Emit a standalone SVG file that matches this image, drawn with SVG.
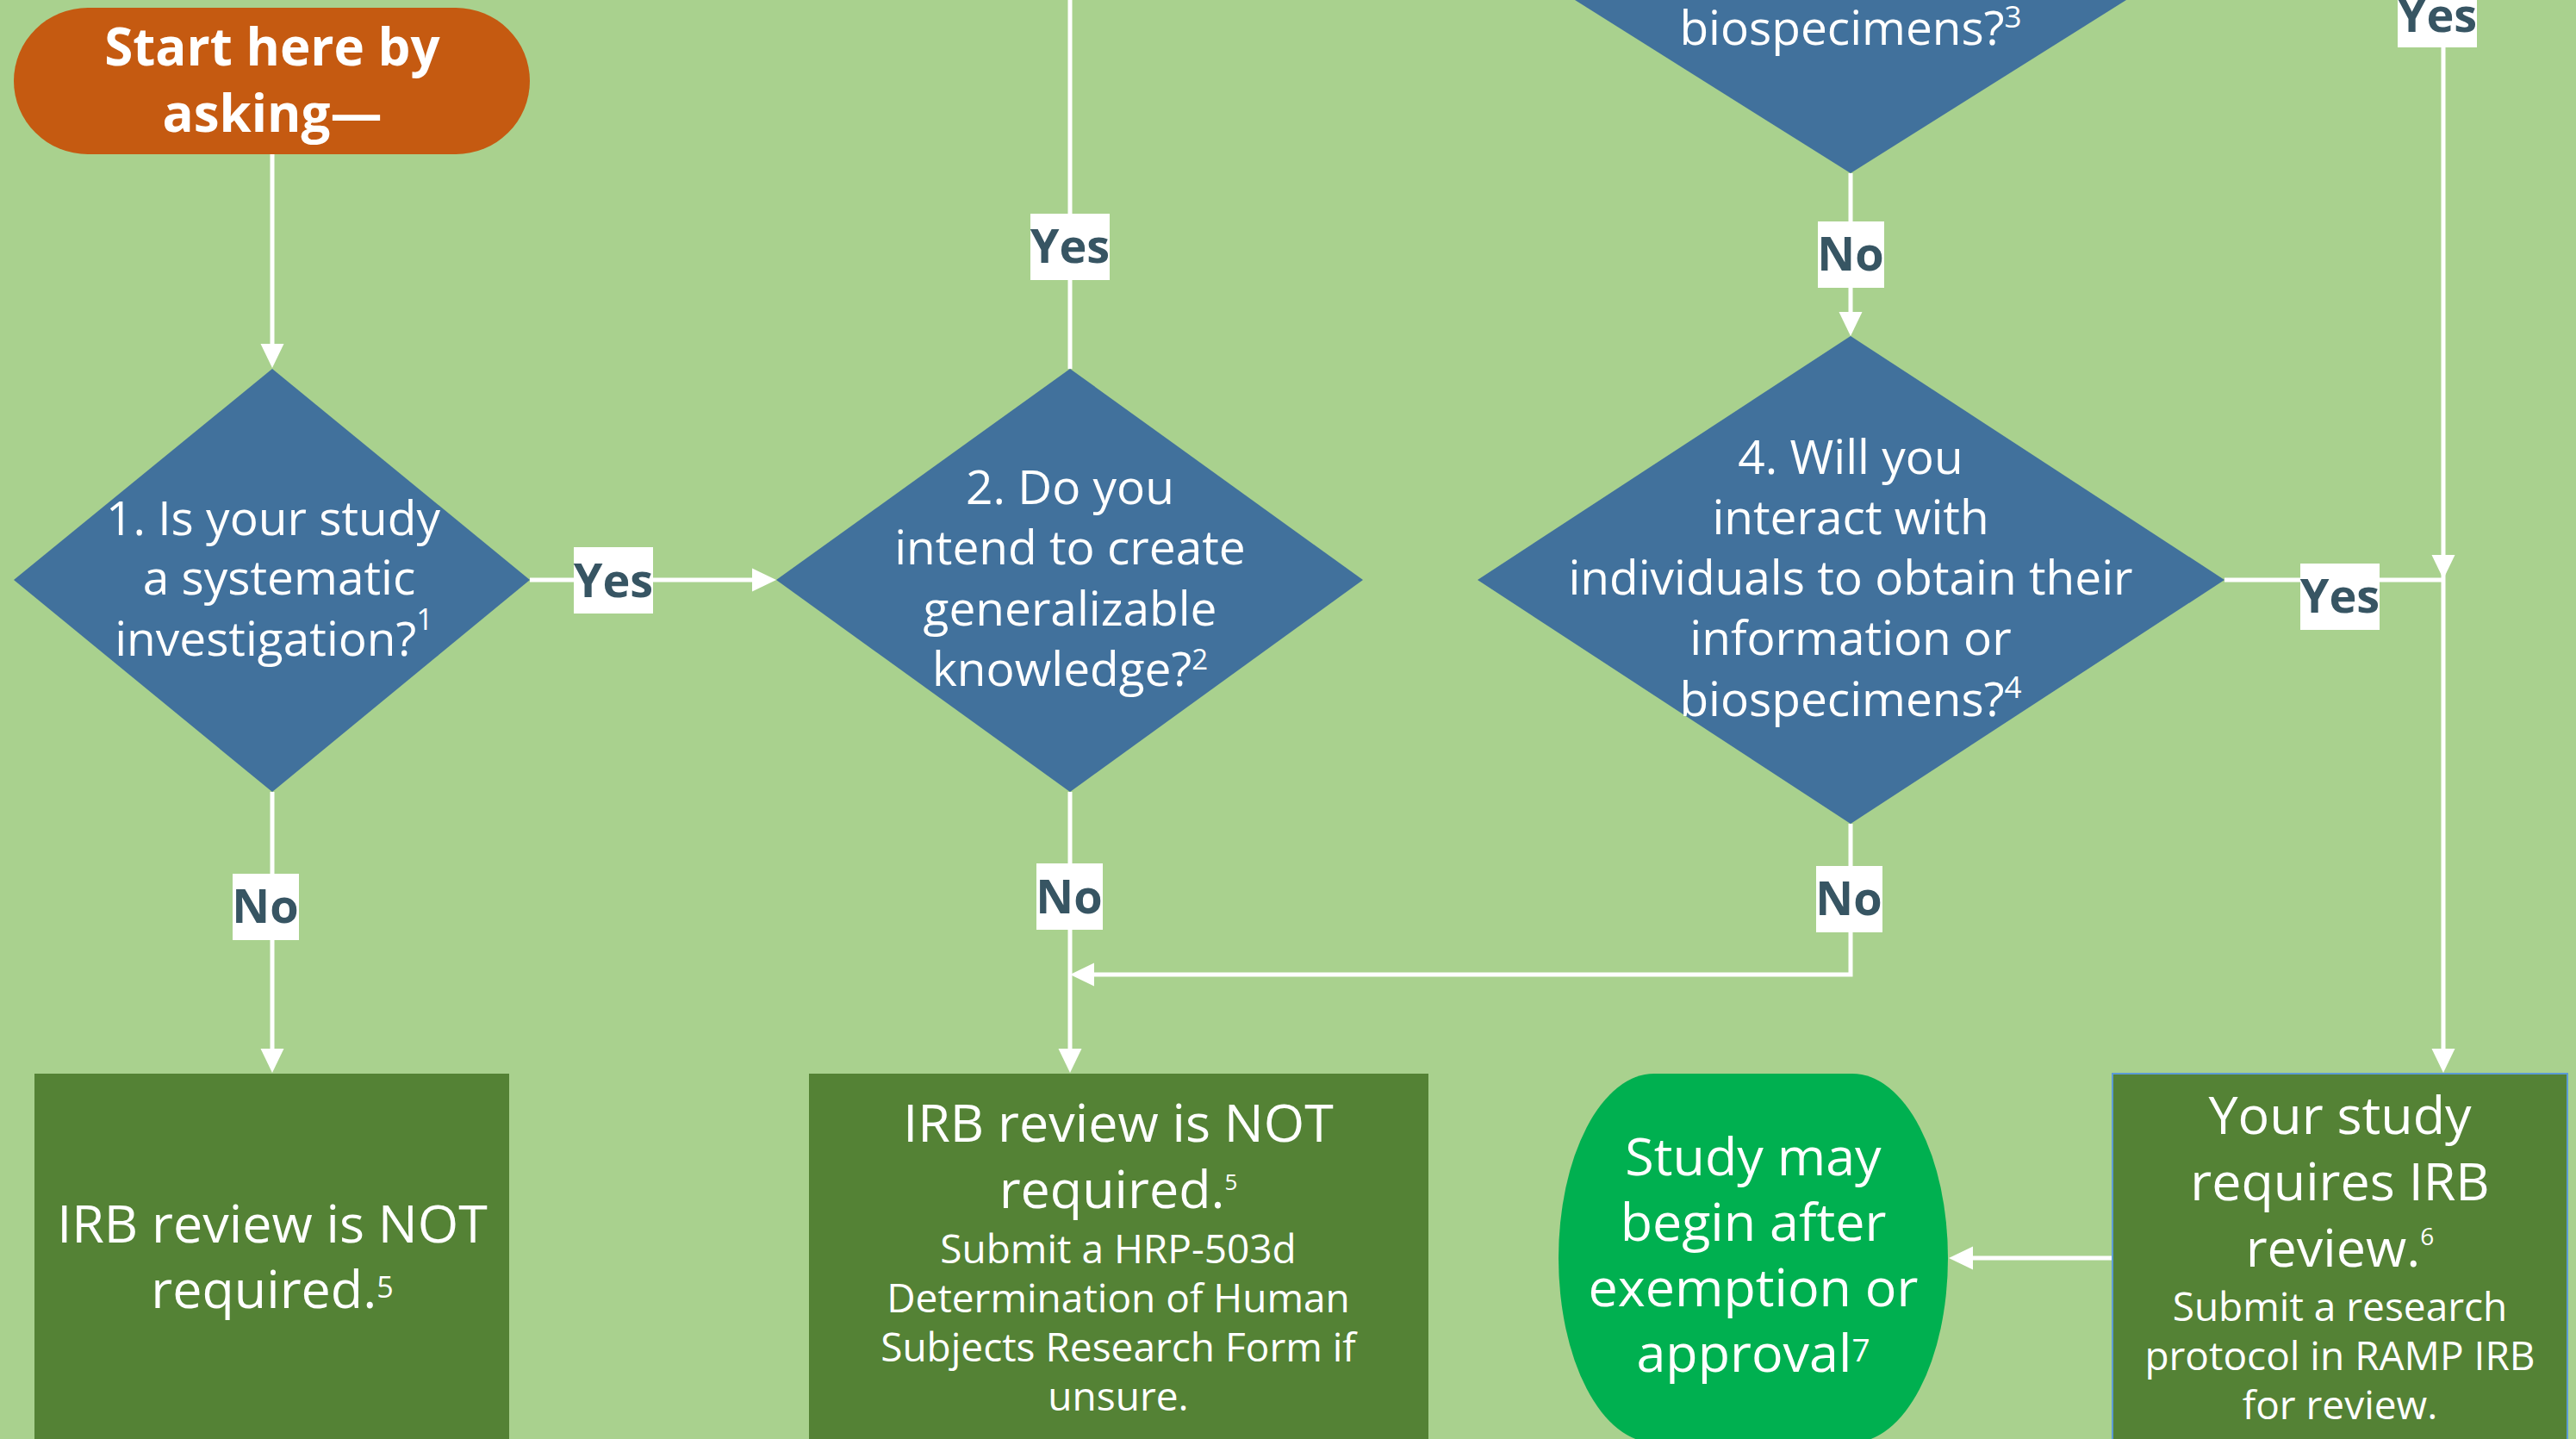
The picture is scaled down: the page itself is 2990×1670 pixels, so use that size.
<svg xmlns="http://www.w3.org/2000/svg" width="2990" height="1670" viewBox="0 0 2990 1670">
  <defs>
    <style>
      .bg { fill: #a9d18e; }
      .decision { fill: #41719c; }
      .start { fill: #c55a11; }
      .outcome { fill: #548235; }
      .outcome-edge { fill: #548235; stroke: #5b9bd5; stroke-width: 2; }
      .go { fill: #00b050; }
      .wire { fill: none; stroke: #ffffff; stroke-width: 5; }
      .tag { fill: #ffffff; }
      .t { font-family: 'Open Sans', 'Noto Sans', 'Liberation Sans', sans-serif; fill: #ffffff; text-anchor: middle; }
      .q { font-size: 55px; }
      .big { font-size: 61px; }
      .small { font-size: 46px; }
      .head { font-size: 60px; font-weight: 700; }
      .lbl { font-family: 'Open Sans', 'Noto Sans', 'Liberation Sans', sans-serif; font-size: 54px; font-weight: 700; fill: #375563; text-anchor: middle; }
    </style>
    <marker id="arrow" markerUnits="userSpaceOnUse" markerWidth="28" markerHeight="28" viewBox="0 -14 28 28" refX="0" refY="0" orient="auto" overflow="visible">
      <path d="M0,-13.5 L28,0 L0,13.5 z" fill="#ffffff"/>
    </marker>
  </defs>

  <rect class="bg" x="0" y="0" width="2990" height="1670"/>

  <!-- connectors -->
  <g id="connectors">
    <path class="wire" d="M316,179 V399" marker-end="url(#arrow)"/>
    <path class="wire" d="M615,673 H873" marker-end="url(#arrow)"/>
    <path class="wire" d="M1242,428 V-10"/>
    <path class="wire" d="M2148,201 V362" marker-end="url(#arrow)"/>
    <path class="wire" d="M2582,673 H2836"/>
    <path class="wire" d="M2836,-10 V644" marker-end="url(#arrow)"/>
    <path class="wire" d="M2836,644 V1217" marker-end="url(#arrow)"/>
    <path class="wire" d="M316,919 V1217" marker-end="url(#arrow)"/>
    <path class="wire" d="M1242,919 V1217" marker-end="url(#arrow)"/>
    <path class="wire" d="M2148,956 V1131 H1270" marker-end="url(#arrow)"/>
    <path class="wire" d="M2452,1460 H2290" marker-end="url(#arrow)"/>
  </g>

  <!-- start terminator -->
  <g id="start">
    <rect class="start" x="16" y="9" width="599" height="170" rx="86" ry="85"/>
    <text class="t head" x="316" y="76">Start here by</text>
    <text class="t head" x="316" y="153">asking—</text>
  </g>

  <!-- question 1 -->
  <g id="q1">
    <polygon class="decision" points="316,428 615,673 316,919 16,673"/>
    <text class="t q" x="317" y="621">1. Is your study</text>
    <text class="t q" x="324" y="690">a systematic</text>
    <text class="t q" x="318" y="761">investigation?<tspan font-size="34" dy="-30">1</tspan></text>
  </g>

  <!-- question 2 -->
  <g id="q2">
    <polygon class="decision" points="1242,428 1582,673 1242,919 901,673"/>
    <text class="t q" x="1242" y="585">2. Do you</text>
    <text class="t q" x="1242" y="655">intend to create</text>
    <text class="t q" x="1242" y="726">generalizable</text>
    <text class="t q" x="1242" y="796">knowledge?<tspan font-size="33" dy="-19">2</tspan></text>
  </g>

  <!-- question 3 -->
  <g id="q3">
    <polygon class="decision" points="2148,-343 2581,-71 2148,201 1715,-71"/>
    <text class="t q" x="2148" y="52">biospecimens?<tspan font-size="35" dy="-20">3</tspan></text>
  </g>

  <!-- question 4 -->
  <g id="q4">
    <polygon class="decision" points="2148,390 2582,673 2148,956 1715,673"/>
    <text class="t q" x="2148" y="550">4. Will you</text>
    <text class="t q" x="2148" y="620">interact with</text>
    <text class="t q" x="2148" y="690">individuals to obtain their</text>
    <text class="t q" x="2148" y="760">information or</text>
    <text class="t q" x="2148" y="831">biospecimens?<tspan font-size="35" dy="-21">4</tspan></text>
  </g>

  <!-- outcome: not research -->
  <g id="not-required-1">
    <rect class="outcome" x="40" y="1246" width="551" height="460"/>
    <text class="t big" x="316" y="1442">IRB review is NOT</text>
    <text class="t big" x="316" y="1518">required.<tspan font-size="34" dy="-12">5</tspan></text>
  </g>

  <!-- outcome: not required, optional determination -->
  <g id="not-required-2">
    <rect class="outcome" x="939" y="1246" width="719" height="460"/>
    <text class="t big" x="1298" y="1325">IRB review is NOT</text>
    <text class="t big" x="1298" y="1402">required.<tspan font-size="26" dy="-21">5</tspan></text>
    <text class="t small" x="1298" y="1466">Submit a HRP-503d</text>
    <text class="t small" x="1298" y="1523">Determination of Human</text>
    <text class="t small" x="1298" y="1580">Subjects Research Form if</text>
    <text class="t small" x="1298" y="1637">unsure.</text>
  </g>

  <!-- outcome: study may begin -->
  <g id="may-begin">
    <rect class="go" x="1809" y="1246" width="452" height="428" rx="111" ry="214"/>
    <text class="t big" x="2035" y="1364">Study may</text>
    <text class="t big" x="2035" y="1440">begin after</text>
    <text class="t big" x="2035" y="1516">exemption or</text>
    <text class="t big" x="2035" y="1592">approval<tspan font-size="37" dy="-12">7</tspan></text>
  </g>

  <!-- outcome: IRB review required -->
  <g id="review-required">
    <rect class="outcome-edge" x="2452" y="1246" width="528" height="460"/>
    <text class="t big" x="2716" y="1316">Your study</text>
    <text class="t big" x="2716" y="1393">requires IRB</text>
    <text class="t big" x="2716" y="1470">review.<tspan font-size="28" dy="-25">6</tspan></text>
    <text class="t small" x="2716" y="1533">Submit a research</text>
    <text class="t small" x="2716" y="1590">protocol in RAMP IRB</text>
    <text class="t small" x="2716" y="1647">for review.</text>
  </g>

  <!-- connector labels -->
  <g id="labels">
    <rect class="tag" x="666" y="635" width="92" height="77"/>
    <text class="lbl" x="712" y="693">Yes</text>
    <rect class="tag" x="1196" y="248" width="92" height="77"/>
    <text class="lbl" x="1242" y="305">Yes</text>
    <rect class="tag" x="2110" y="257" width="77" height="77"/>
    <text class="lbl" x="2148" y="314">No</text>
    <rect class="tag" x="2783" y="-22" width="92" height="77"/>
    <text class="lbl" x="2829" y="37">Yes</text>
    <rect class="tag" x="2670" y="654" width="92" height="77"/>
    <text class="lbl" x="2716" y="711">Yes</text>
    <rect class="tag" x="270" y="1014" width="77" height="77"/>
    <text class="lbl" x="308" y="1071">No</text>
    <rect class="tag" x="1203" y="1002" width="77" height="77"/>
    <text class="lbl" x="1241" y="1060">No</text>
    <rect class="tag" x="2108" y="1005" width="77" height="77"/>
    <text class="lbl" x="2146" y="1062">No</text>
  </g>
</svg>
